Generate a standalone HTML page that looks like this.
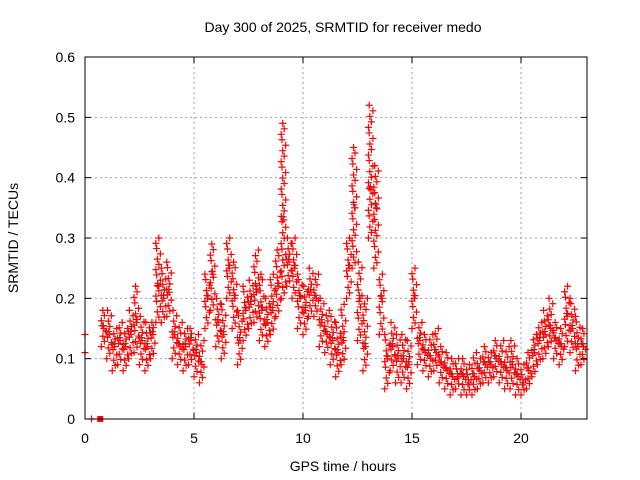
<!DOCTYPE html>
<html><head><meta charset="utf-8"><style>
body{margin:0;background:#fff;}
svg{display:block;font-family:"Liberation Sans",sans-serif;}
</style></head><body>
<svg id="chart" width="640" height="480">
<text x="343" y="32" font-size="14" text-anchor="middle">Day 300 of 2025, SRMTID for receiver medo</text>
<text x="343" y="471" font-size="14" text-anchor="middle">GPS time / hours</text>
<text transform="translate(18,238) rotate(-90)" font-size="14" text-anchor="middle">SRMTID / TECUs</text>
<g id="grid"></g><g id="marks"></g><g id="axes"></g>
</svg>
<script>
const hours=[0.75,1,1.25,1.5,1.75,2,2.25,2.5,2.75,3,3.25,3.5,3.75,4,4.25,4.5,4.75,5,5.25,5.5,5.75,6,6.25,6.5,6.75,7,7.25,7.5,7.75,8,8.25,8.5,8.75,9,9.25,9.5,9.75,10,10.25,10.5,10.75,11,11.25,11.5,11.75,12,12.25,12.5,12.75,13,13.25,13.5,13.75,14,14.25,14.5,14.75,15,15.25,15.5,15.75,16,16.25,16.5,16.75,17,17.25,17.5,17.75,18,18.25,18.5,18.75,19,19.25,19.5,19.75,20,20.25,20.5,20.75,21,21.25,21.5,21.75,22,22.25,22.5,22.75];
const lowVals=[0.12,0.1,0.08,0.09,0.08,0.1,0.11,0.09,0.08,0.1,0.16,0.16,0.17,0.1,0.09,0.08,0.09,0.07,0.06,0.15,0.18,0.12,0.1,0.2,0.15,0.09,0.13,0.15,0.16,0.13,0.12,0.14,0.17,0.2,0.22,0.2,0.15,0.14,0.17,0.17,0.12,0.11,0.09,0.07,0.09,0.2,0.25,0.13,0.08,0.3,0.25,0.14,0.05,0.08,0.06,0.06,0.05,0.15,0.09,0.08,0.07,0.08,0.06,0.05,0.04,0.05,0.04,0.04,0.04,0.05,0.06,0.06,0.07,0.06,0.05,0.05,0.04,0.04,0.05,0.07,0.09,0.1,0.12,0.1,0.09,0.12,0.11,0.08,0.09];
const midVals=[0.15,0.14,0.12,0.13,0.12,0.14,0.16,0.13,0.12,0.14,0.22,0.2,0.21,0.14,0.12,0.12,0.13,0.11,0.09,0.2,0.24,0.16,0.14,0.25,0.2,0.13,0.18,0.19,0.21,0.18,0.16,0.18,0.22,0.33,0.26,0.25,0.2,0.18,0.21,0.2,0.16,0.14,0.13,0.11,0.13,0.25,0.35,0.2,0.12,0.38,0.35,0.2,0.1,0.12,0.1,0.1,0.09,0.2,0.13,0.11,0.1,0.11,0.09,0.08,0.07,0.07,0.07,0.06,0.07,0.08,0.09,0.09,0.1,0.09,0.08,0.09,0.07,0.06,0.08,0.11,0.13,0.14,0.15,0.13,0.12,0.17,0.15,0.12,0.12];
const highVals=[0.18,0.18,0.15,0.16,0.15,0.18,0.22,0.17,0.16,0.16,0.3,0.25,0.26,0.18,0.16,0.15,0.15,0.14,0.13,0.24,0.29,0.2,0.19,0.3,0.26,0.18,0.22,0.23,0.28,0.24,0.2,0.24,0.28,0.49,0.3,0.3,0.24,0.22,0.25,0.24,0.2,0.18,0.17,0.16,0.19,0.3,0.45,0.26,0.2,0.52,0.42,0.24,0.14,0.16,0.14,0.14,0.13,0.25,0.16,0.14,0.14,0.15,0.12,0.11,0.1,0.1,0.1,0.09,0.11,0.1,0.12,0.11,0.13,0.13,0.12,0.13,0.1,0.09,0.11,0.14,0.16,0.18,0.2,0.16,0.15,0.22,0.2,0.17,0.15];
const xTicks=[0,5,10,15,20];
const yTicks=[0,0.1,0.2,0.3,0.4,0.5,0.6];
const L=85,R=587,T=57,B=419;
const X=h=>L+h*21.8;
const Y=v=>B-v/0.6*(B-T);
const NS='http://www.w3.org/2000/svg';
function mk(tag,attrs,parent){const e=document.createElementNS(NS,tag);for(const k in attrs)e.setAttribute(k,attrs[k]);parent.appendChild(e);return e;}
const grid=document.getElementById('grid'),axes=document.getElementById('axes'),marks=document.getElementById('marks');
yTicks.forEach(v=>{
 if(v>0&&v<0.6){const g=mk('line',{x1:L,x2:R,y1:Y(v),y2:Y(v),stroke:'#a0a0a0','stroke-dasharray':'2,3'},grid);
 
 }
 mk('line',{x1:L,x2:L+6,y1:Y(v),y2:Y(v),stroke:'#000'},axes);
 mk('line',{x1:R-6,x2:R,y1:Y(v),y2:Y(v),stroke:'#000'},axes);
 const t=mk('text',{x:L-10,y:Y(v)+5,'font-size':14,'text-anchor':'end'},axes);t.textContent=v===0?'0':String(v);
 
 
});
xTicks.forEach(h=>{
 if(h>0){const g=mk('line',{x1:X(h),x2:X(h),y1:T,y2:B,stroke:'#a0a0a0','stroke-dasharray':'2,3'},grid);
 
 }
 mk('line',{x1:X(h),x2:X(h),y1:B,y2:B-6,stroke:'#000'},axes);
 mk('line',{x1:X(h),x2:X(h),y1:T,y2:T+6,stroke:'#000'},axes);
 const t=mk('text',{x:X(h),y:B+24,'font-size':14,'text-anchor':'middle'},axes);t.textContent=String(h);
 
 
});
const frame=mk('rect',{x:L,y:T,width:R-L,height:B-T,fill:'none',stroke:'#000'},axes);


function plus(x,y,c){const p=mk('path',{d:`M${x-3.5},${y}h7M${x},${y-3.5}v7`,stroke:c,'stroke-width':1.2,fill:'none'},marks);
 
 }
hours.forEach((h,i)=>{
 const x0=X(h);
 plus(x0+2,Y(midVals[i])-3,'#555');
 const lo=lowVals[i],hi=highVals[i];
 const n=Math.max(4,Math.round((hi-lo)/0.009));
 for(let k=0;k<=n;k++){
  const v=lo+(hi-lo)*k/n;
  plus(x0+[0,3,1.5,4.5,0.8][k%5],Y(v),'#f00');
 }
 plus(x0+2.5,Y(midVals[i]),'#f00');
});
plus(X(0),Y(0.11),'#f00');plus(X(0),Y(0.14),'#f00');
plus(X(0.3),Y(0),'#f00');
const sq=mk('rect',{x:X(0.7)-3,y:B-3,width:6,height:6,fill:'#f00'},marks);


</script>
</body></html>
